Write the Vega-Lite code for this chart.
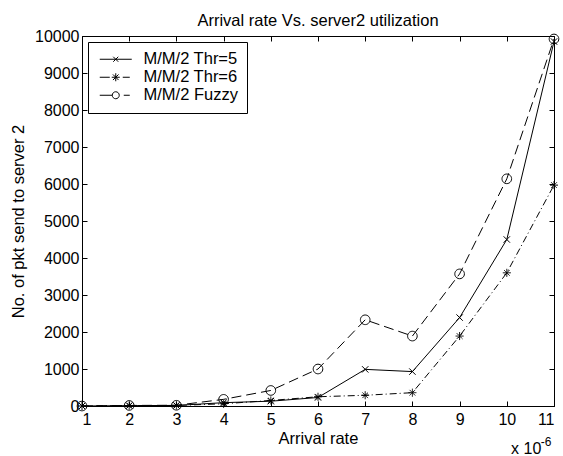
{
  "$schema": "https://vega.github.io/schema/vega-lite/v6.json",
  "width": 472,
  "height": 370,
  "autosize": "none",
  "padding": {"left": 82, "top": 36, "right": 9, "bottom": 50},
  "background": "white",
  "config": {
    "view": {"stroke": "black", "strokeWidth": 1},
    "font": "Liberation Sans",
    "axis": {
      "grid": false,
      "domainColor": "black",
      "tickColor": "black",
      "labelColor": "black",
      "titleColor": "black",
      "labelFont": "Liberation Sans",
      "labelFontSize": 16,
      "titleFont": "Liberation Sans",
      "titleFontSize": 16.5,
      "titleFontWeight": "normal",
      "tickSize": -5
    },
    "legend": {
      "orient": "top-left",
      "offset": 6,
      "strokeColor": "black",
      "fillColor": "white",
      "padding": 9,
      "cornerRadius": 0,
      "symbolSize": 100,
      "symbolStrokeWidth": 1,
      "symbolStrokeColor": "black",
      "symbolFillColor": "transparent",
      "symbolOpacity": 1,
      "labelFont": "Liberation Sans",
      "labelFontSize": 16.5,
      "labelColor": "black",
      "labelOffset": 30,
      "rowPadding": 1
    }
  },
  "title": {
    "text": "Arrival rate Vs. server2 utilization",
    "font": "Liberation Sans",
    "fontSize": 16.5,
    "fontWeight": "normal",
    "color": "black",
    "offset": -1
  },
  "datasets": {
    "main": [
      {"rate": 1, "value": 0, "series": "M/M/2 Thr=5"},
      {"rate": 2, "value": 10, "series": "M/M/2 Thr=5"},
      {"rate": 3, "value": 15, "series": "M/M/2 Thr=5"},
      {"rate": 4, "value": 90, "series": "M/M/2 Thr=5"},
      {"rate": 5, "value": 130, "series": "M/M/2 Thr=5"},
      {"rate": 6, "value": 230, "series": "M/M/2 Thr=5"},
      {"rate": 7, "value": 990, "series": "M/M/2 Thr=5"},
      {"rate": 8, "value": 930, "series": "M/M/2 Thr=5"},
      {"rate": 9, "value": 2390, "series": "M/M/2 Thr=5"},
      {"rate": 10, "value": 4500, "series": "M/M/2 Thr=5"},
      {"rate": 11, "value": 9850, "series": "M/M/2 Thr=5"},
      {"rate": 1, "value": 0, "series": "M/M/2 Thr=6"},
      {"rate": 2, "value": 10, "series": "M/M/2 Thr=6"},
      {"rate": 3, "value": 15, "series": "M/M/2 Thr=6"},
      {"rate": 4, "value": 60, "series": "M/M/2 Thr=6"},
      {"rate": 5, "value": 150, "series": "M/M/2 Thr=6"},
      {"rate": 6, "value": 250, "series": "M/M/2 Thr=6"},
      {"rate": 7, "value": 290, "series": "M/M/2 Thr=6"},
      {"rate": 8, "value": 360, "series": "M/M/2 Thr=6"},
      {"rate": 9, "value": 1890, "series": "M/M/2 Thr=6"},
      {"rate": 10, "value": 3600, "series": "M/M/2 Thr=6"},
      {"rate": 11, "value": 5970, "series": "M/M/2 Thr=6"},
      {"rate": 1, "value": 0, "series": "M/M/2 Fuzzy"},
      {"rate": 2, "value": 15, "series": "M/M/2 Fuzzy"},
      {"rate": 3, "value": 20, "series": "M/M/2 Fuzzy"},
      {"rate": 4, "value": 180, "series": "M/M/2 Fuzzy"},
      {"rate": 5, "value": 420, "series": "M/M/2 Fuzzy"},
      {"rate": 6, "value": 1000, "series": "M/M/2 Fuzzy"},
      {"rate": 7, "value": 2330, "series": "M/M/2 Fuzzy"},
      {"rate": 8, "value": 1890, "series": "M/M/2 Fuzzy"},
      {"rate": 9, "value": 3570, "series": "M/M/2 Fuzzy"},
      {"rate": 10, "value": 6140, "series": "M/M/2 Fuzzy"},
      {"rate": 11, "value": 9920, "series": "M/M/2 Fuzzy"}
    ],
    "note": [{"t": "x 10"}],
    "exp": [{"t": "-6"}]
  },
  "layer": [
    {
      "data": {"name": "main"},
      "transform": [{"filter": "datum.series === 'M/M/2 Thr=5'"}],
      "mark": {"type": "line", "color": "black", "strokeWidth": 1, "point": {"shape": "M-0.8,-0.8L0.8,0.8M-0.8,0.8L0.8,-0.8", "size": 64, "filled": false, "stroke": "black", "strokeWidth": 1}},
      "encoding": {
        "x": {
          "field": "rate", "type": "quantitative",
          "scale": {"domain": [1, 11], "nice": false, "zero": false},
          "axis": {"orient": "bottom", "values": [1,2,3,4,5,6,7,8,9,10,11], "title": "Arrival rate", "labelPadding": 10, "titlePadding": 3}
        },
        "y": {
          "field": "value", "type": "quantitative",
          "scale": {"domain": [0, 10000], "nice": false},
          "axis": {"orient": "left", "values": [0,1000,2000,3000,4000,5000,6000,7000,8000,9000,10000], "format": "d", "title": "No. of pkt send to server 2", "labelPadding": 8, "titlePadding": 8}
        }
      }
    },
    {
      "data": {"name": "main"},
      "transform": [{"filter": "datum.series === 'M/M/2 Thr=6'"}],
      "mark": {"type": "line", "color": "black", "strokeWidth": 1, "strokeDash": [7, 3, 1, 3], "point": {"shape": "M0,-1V1M-1,0H1M-0.7,-0.7L0.7,0.7M-0.7,0.7L0.7,-0.7", "size": 64, "filled": false, "stroke": "black", "strokeWidth": 1, "strokeDash": [1, 0]}},
      "encoding": {
        "x": {"field": "rate", "type": "quantitative", "axis": null},
        "y": {"field": "value", "type": "quantitative", "axis": null}
      }
    },
    {
      "data": {"name": "main"},
      "transform": [{"filter": "datum.series === 'M/M/2 Fuzzy'"}],
      "mark": {"type": "line", "color": "black", "strokeWidth": 1, "strokeDash": [10, 5], "point": {"shape": "M1.2,0A1.2,1.2,0,1,1,-1.2,0A1.2,1.2,0,1,1,1.2,0Z", "size": 64, "filled": false, "stroke": "black", "strokeWidth": 1, "strokeDash": [1, 0]}},
      "encoding": {
        "x": {"field": "rate", "type": "quantitative", "axis": null},
        "y": {"field": "value", "type": "quantitative", "axis": null}
      }
    },
    {
      "data": {"name": "main"},
      "mark": {"type": "point", "filled": false, "color": "black", "size": 100, "strokeWidth": 1, "opacity": 0},
      "encoding": {
        "x": {"field": "rate", "type": "quantitative", "axis": null},
        "y": {"field": "value", "type": "quantitative", "axis": null},
        "shape": {
          "field": "series", "type": "nominal",
          "scale": {
            "domain": ["M/M/2 Thr=5", "M/M/2 Thr=6", "M/M/2 Fuzzy"],
            "range": [
              "M-1.1,0H5.3M1.6,-0.5L2.6,0.5M1.6,0.5L2.6,-0.5",
              "M-1.1,0H0.9M3.5,0H4.9M2.1,-0.8V0.8M1.3,0H2.9M1.54,-0.56L2.66,0.56M1.54,0.56L2.66,-0.56",
              "M-1.1,0H1.4M3.7,0H4.9M2.8,0A0.7,0.7,0,1,1,1.4,0A0.7,0.7,0,1,1,2.8,0Z"
            ]
          },
          "legend": {"title": null}
        }
      }
    },
    {
      "data": {"name": "main"},
      "mark": {"type": "point", "opacity": 0},
      "encoding": {
        "x": {
          "field": "rate", "type": "quantitative",
          "axis": {"orient": "top", "values": [1,2,3,4,5,6,7,8,9,10,11], "labels": false, "title": null, "domain": false}
        },
        "y": {
          "field": "value", "type": "quantitative",
          "axis": {"orient": "right", "values": [0,1000,2000,3000,4000,5000,6000,7000,8000,9000,10000], "labels": false, "title": null, "domain": false}
        }
      }
    },
    {
      "data": {"name": "note"},
      "mark": {"type": "text", "align": "left", "baseline": "alphabetic", "font": "Liberation Sans", "fontSize": 16, "color": "black"},
      "encoding": {
        "x": {"datum": 10.09, "type": "quantitative", "axis": null},
        "y": {"datum": -1300, "type": "quantitative", "axis": null},
        "text": {"field": "t"}
      }
    },
    {
      "data": {"name": "exp"},
      "mark": {"type": "text", "align": "left", "baseline": "alphabetic", "font": "Liberation Sans", "fontSize": 12, "color": "black"},
      "encoding": {
        "x": {"datum": 10.72, "type": "quantitative", "axis": null},
        "y": {"datum": -1080, "type": "quantitative", "axis": null},
        "text": {"field": "t"}
      }
    }
  ],
  "resolve": {"axis": {"x": "independent", "y": "independent"}}
}
